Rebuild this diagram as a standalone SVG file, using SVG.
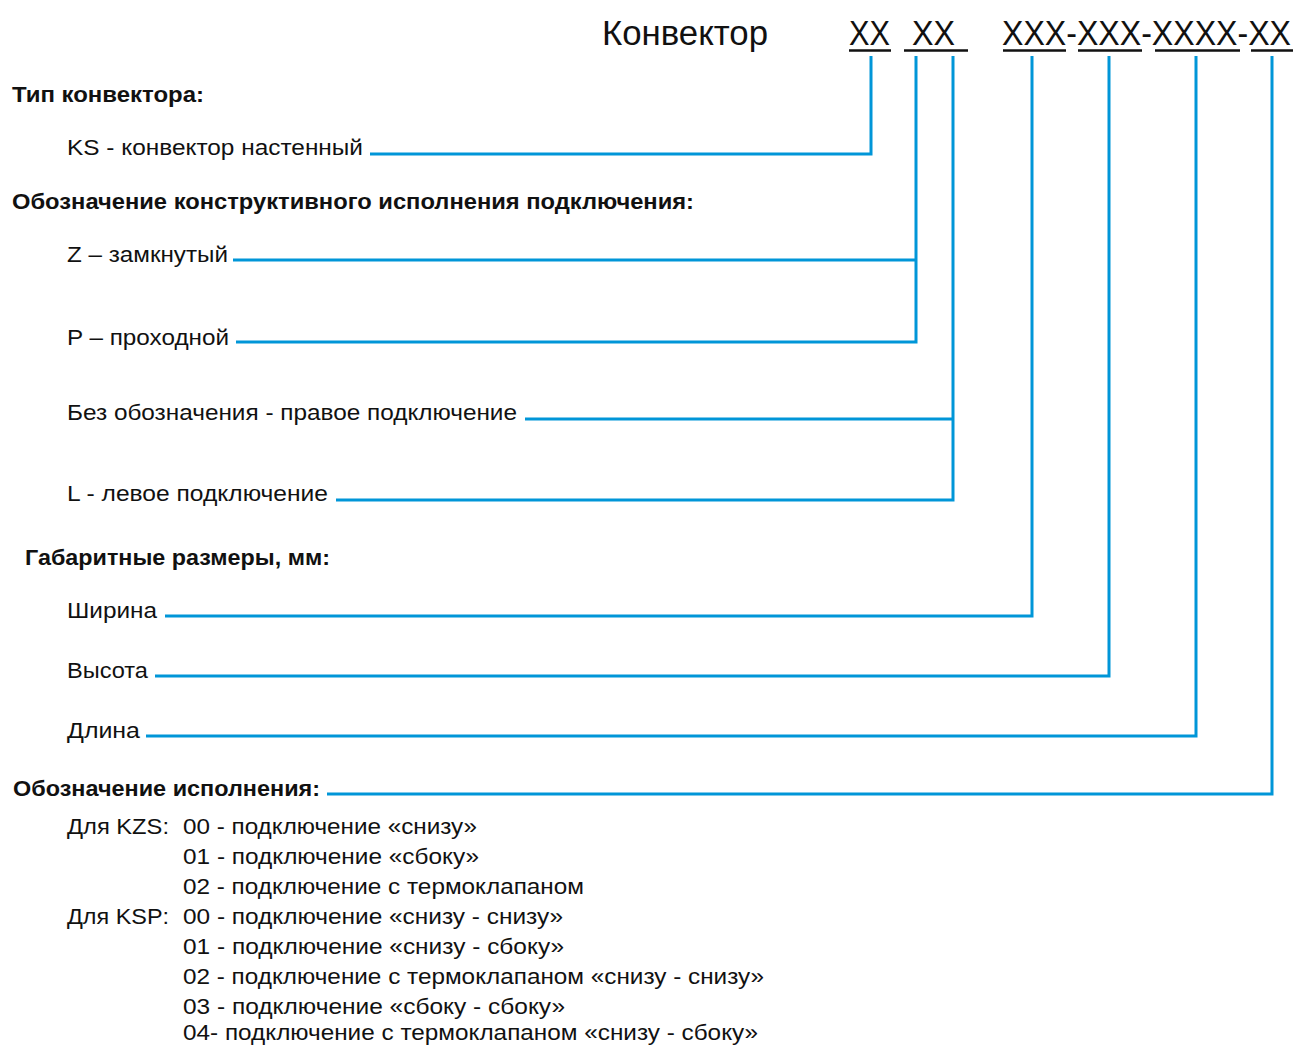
<svg xmlns="http://www.w3.org/2000/svg" width="1293" height="1045" viewBox="0 0 1293 1045">
<style>
text{font-family:"Liberation Sans",Arial,sans-serif;fill:#111;}
.h{font-size:35px;}
.b{font-size:22px;font-weight:bold;}
.r{font-size:22px;}
.ul{stroke:#111;stroke-width:2.5;fill:none;}
.c{stroke:#0096D8;stroke-width:3;fill:none;stroke-linejoin:miter;stroke-linecap:butt;}
</style>
<rect width="1293" height="1045" fill="#fff"/>
<g id="header">
<text class="h" x="602" y="45" textLength="166" lengthAdjust="spacingAndGlyphs">Конвектор</text>
<text class="h" x="849" y="45" textLength="41" lengthAdjust="spacingAndGlyphs">XX</text>
<text class="h" x="912" y="45" textLength="43" lengthAdjust="spacingAndGlyphs">XX</text>
<text x="1002" y="39.8" transform="scale(1,1.13)" style="font-size:31px" textLength="289" lengthAdjust="spacingAndGlyphs">XXX-XXX-XXXX-XX</text>
<path class="ul" d="M849 50.5H891M904 50.5H968M1003 50.5H1066M1078 50.5H1142M1155 50.5H1240M1251 50.5H1293"/>
</g>
<g id="type">
<text class="b" x="12" y="102" textLength="192" lengthAdjust="spacingAndGlyphs">Тип конвектора:</text>
<text class="r" x="67" y="155" textLength="296" lengthAdjust="spacingAndGlyphs">KS - конвектор настенный</text>
</g>
<g id="connection">
<text class="b" x="12" y="209" textLength="682" lengthAdjust="spacingAndGlyphs">Обозначение конструктивного исполнения подключения:</text>
<text class="r" x="67" y="262" textLength="161" lengthAdjust="spacingAndGlyphs">Z – замкнутый</text>
<text class="r" x="67" y="345" textLength="162" lengthAdjust="spacingAndGlyphs">P – проходной</text>
<text class="r" x="67" y="420" textLength="450" lengthAdjust="spacingAndGlyphs">Без обозначения - правое подключение</text>
<text class="r" x="67" y="501" textLength="261" lengthAdjust="spacingAndGlyphs">L - левое подключение</text>
</g>
<g id="dimensions">
<text class="b" x="25" y="565" textLength="305" lengthAdjust="spacingAndGlyphs">Габаритные размеры, мм:</text>
<text class="r" x="67" y="618" textLength="90" lengthAdjust="spacingAndGlyphs">Ширина</text>
<text class="r" x="67" y="678" textLength="81" lengthAdjust="spacingAndGlyphs">Высота</text>
<text class="r" x="67" y="738" textLength="73" lengthAdjust="spacingAndGlyphs">Длина</text>
</g>
<g id="execution">
<text class="b" x="13" y="796" textLength="307" lengthAdjust="spacingAndGlyphs">Обозначение исполнения:</text>
<text class="r" x="67" y="834" textLength="102" lengthAdjust="spacingAndGlyphs">Для KZS:</text>
<text class="r" x="183" y="834" textLength="294" lengthAdjust="spacingAndGlyphs">00 - подключение «снизу»</text>
<text class="r" x="183" y="864" textLength="296" lengthAdjust="spacingAndGlyphs">01 - подключение «сбоку»</text>
<text class="r" x="183" y="894" textLength="401" lengthAdjust="spacingAndGlyphs">02 - подключение с термоклапаном</text>
<text class="r" x="67" y="924" textLength="102" lengthAdjust="spacingAndGlyphs">Для KSP:</text>
<text class="r" x="183" y="924" textLength="380" lengthAdjust="spacingAndGlyphs">00 - подключение «снизу - снизу»</text>
<text class="r" x="183" y="954" textLength="381" lengthAdjust="spacingAndGlyphs">01 - подключение «снизу - сбоку»</text>
<text class="r" x="183" y="984" textLength="581" lengthAdjust="spacingAndGlyphs">02 - подключение с термоклапаном «снизу - снизу»</text>
<text class="r" x="183" y="1014" textLength="382" lengthAdjust="spacingAndGlyphs">03 - подключение «сбоку - сбоку»</text>
<text class="r" x="183" y="1040" textLength="575" lengthAdjust="spacingAndGlyphs">04- подключение с термоклапаном «снизу - сбоку»</text>
</g>
<g id="connectors">
<path class="c" d="M871 56V154H370"/>
<path class="c" d="M916 56V342H236M916 260H233"/>
<path class="c" d="M953 56V500H336M953 419H525"/>
<path class="c" d="M1032 56V616H165"/>
<path class="c" d="M1109 56V676H155"/>
<path class="c" d="M1196 56V736H146"/>
<path class="c" d="M1272 56V794H327"/>
</g>
</svg>
